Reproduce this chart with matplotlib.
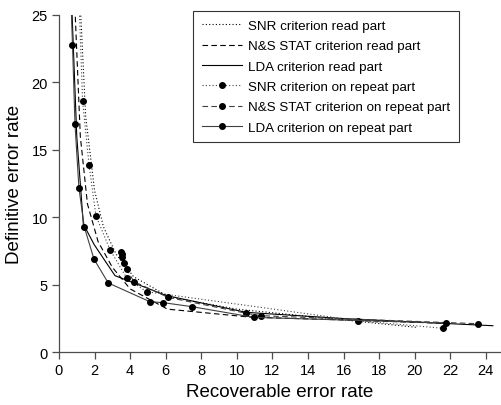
import matplotlib
matplotlib.use("Agg")
import matplotlib.pyplot as plt

plt.rcParams['font.family'] = ['Liberation Sans', 'DejaVu Sans']

# read part curves (no markers)
snr_read_x = [1.15, 1.5, 2.0, 2.5, 3.2, 4.2, 6.2, 10.0, 16.0, 20.1]
snr_read_y = [27.0, 17.5, 12.0, 9.3, 7.3, 5.6, 4.1, 3.2, 2.4, 1.85]
ns_read_x = [0.85, 1.2, 1.6, 2.2, 3.0, 4.0, 6.1, 10.8, 16.0, 21.7]
ns_read_y = [27.0, 16.0, 11.0, 8.2, 6.3, 4.7, 3.2, 2.6, 2.4, 2.15]
lda_read_x = [0.68, 1.0, 1.37, 1.98, 3.15, 6.05, 10.54, 16.0, 24.4]
lda_read_y = [27.0, 16.0, 9.5, 7.98, 5.68, 4.2, 2.96, 2.5, 1.97]

# repeat part curves (with markers)
snr_rep_x = [1.1, 1.33, 1.69, 2.08, 2.87, 3.82, 4.93, 16.82, 21.6]
snr_rep_y = [27.0, 18.6, 13.9, 10.1, 7.6, 5.48, 4.49, 2.34, 1.78]
ns_rep_x = [3.46, 3.54, 3.57, 3.65, 3.8, 4.21, 6.14, 10.54, 11.38, 23.56]
ns_rep_y = [7.46, 7.29, 7.04, 6.6, 6.17, 5.24, 4.07, 2.89, 2.71, 2.12]
lda_rep_x = [0.62, 0.76, 0.9, 1.12, 1.42, 1.97, 2.77, 5.11, 5.86, 7.49, 10.96, 21.74]
lda_rep_y = [28.0, 22.8, 16.9, 12.2, 9.3, 6.9, 5.14, 3.75, 3.68, 3.38, 2.59, 2.17]

dotted = (0, (1, 2))
dashed = (0, (5, 3))

fig = plt.figure(figsize=(5.02, 4.06), dpi=100)
ax = fig.add_axes([0.1175, 0.1298, 0.8785, 0.8308])

ax.plot(snr_read_x, snr_read_y, color='k', lw=0.8, linestyle=dotted, label='SNR criterion read part')
ax.plot(ns_read_x, ns_read_y, color='k', lw=0.8, linestyle=dashed, label='N&S STAT criterion read part')
ax.plot(lda_read_x, lda_read_y, color='k', lw=0.8, linestyle='-', label='LDA criterion read part')
ax.plot(snr_rep_x, snr_rep_y, color='0.25', lw=0.8, linestyle=dotted, marker='o', ms=4,
        mfc='k', mec='k', label='SNR criterion on repeat part')
ax.plot(ns_rep_x, ns_rep_y, color='0.25', lw=0.8, linestyle=dashed, marker='o', ms=4,
        mfc='k', mec='k', label='N&S STAT criterion on repeat part')
ax.plot(lda_rep_x, lda_rep_y, color='0.25', lw=0.8, linestyle='-', marker='o', ms=4,
        mfc='k', mec='k', label='LDA criterion on repeat part')

ax.set_xlim(0, 24.8)
ax.set_ylim(0, 25)
ax.set_xticks(range(0, 25, 2))
ax.set_yticks(range(0, 26, 5))
ax.spines['top'].set_visible(False)
ax.spines['right'].set_visible(False)
for s in ['left', 'bottom']:
    ax.spines[s].set_linewidth(0.9)
    ax.spines[s].set_color('0.3')
ax.tick_params(direction='out', length=5, width=0.9, color='0.3', labelsize=10.5, pad=3)

ax.set_xlabel('Recoverable error rate', fontsize=13.5, labelpad=4)
ax.set_ylabel('Definitive error rate', fontsize=13.5, labelpad=6)

leg = ax.legend(loc='upper left', bbox_to_anchor=(193 / 502, 1 - 12 / 406), bbox_transform=fig.transFigure,
                fontsize=9.6, frameon=True, fancybox=False, edgecolor='k', handlelength=3.0,
                handletextpad=0.5, labelspacing=0.6, borderpad=0.65, borderaxespad=0)
leg.get_frame().set_linewidth(0.8)

fig.savefig('out.png', dpi=100)
